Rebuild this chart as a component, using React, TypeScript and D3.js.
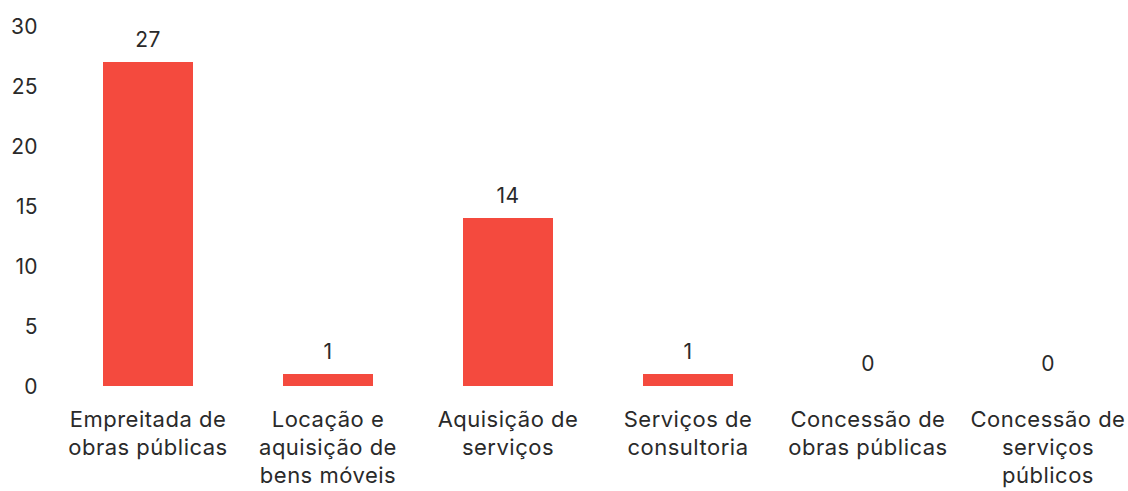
import React from "react";
import * as d3 from "d3";

const categories = [
  "Empreitada de\nobras públicas",
  "Locação e\naquisição de\nbens móveis",
  "Aquisição de\nserviços",
  "Serviços de\nconsultoria",
  "Concessão de\nobras públicas",
  "Concessão de\nserviços\npúblicos",
];
const values = [27, 1, 14, 1, 0, 0];
const yTicks = [0, 5, 10, 15, 20, 25, 30];

const W = 1128;
const H = 491;
const FONT = "Inter, 'Noto Sans', sans-serif";
const BAR = "#f44a3e";
const TEXT = "#2a2a2a";

export default function App() {
  const x = d3
    .scaleBand<string>()
    .domain(categories)
    .range([58, 1138])
    .paddingInner(0.5)
    .paddingOuter(0.25);
  const y = d3.scaleLinear().domain([0, 30]).range([386, 26]);

  return (
    <svg
      width={W}
      height={H}
      style={{ position: "absolute", left: 0, top: 0, background: "#fff" }}
      fontFamily={FONT}
    >
      <rect x={0} y={0} width={W} height={H} fill="#fff" />
      {yTicks.map((t) => (
        <text
          key={t}
          x={38}
          y={y(t)}
          textAnchor="end"
          dominantBaseline="central"
          fontSize={21}
          letterSpacing={0.4}
          fill={TEXT}
        >
          {t}
        </text>
      ))}
      {categories.map((c, i) => {
        const x0 = x(c)!;
        const cx = x0 + x.bandwidth() / 2;
        const v = values[i];
        return (
          <g key={c}>
            {v > 0 && (
              <rect
                x={x0}
                y={y(v)}
                width={x.bandwidth()}
                height={y(0) - y(v)}
                fill={BAR}
              />
            )}
            <text
              x={cx}
              y={y(v) - 15}
              textAnchor="middle"
              fontSize={21}
              letterSpacing={0.4}
              fill={TEXT}
            >
              {v}
            </text>
            <text
              x={cx}
              y={427}
              textAnchor="middle"
              fontSize={22}
              letterSpacing={0.5}
              fill={TEXT}
            >
              {c.split("\n").map((line, k) => (
                <tspan key={k} x={cx} dy={k === 0 ? 0 : 28}>
                  {line}
                </tspan>
              ))}
            </text>
          </g>
        );
      })}
    </svg>
  );
}
